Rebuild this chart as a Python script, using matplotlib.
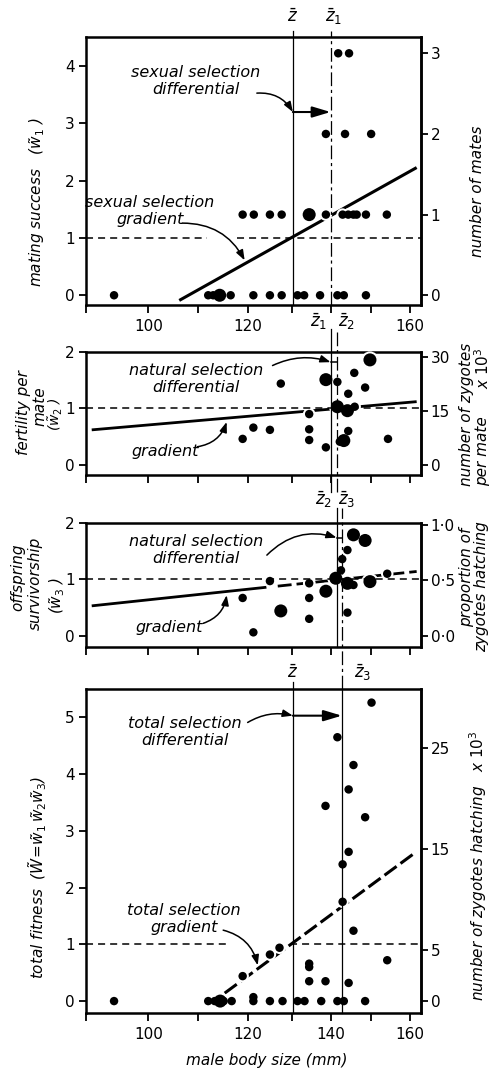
import numpy as np
import matplotlib
matplotlib.use('Agg')
import matplotlib.pyplot as plt

plt.rcParams['font.family'] = ['DejaVu Sans']
plt.rcParams['mathtext.fontset'] = 'dejavusans'

W, H = 492, 1071

# the body size axis is hand drawn: tick values and where they sit along it
size_ticks = [88, 100, 110, 120, 130, 140, 150, 160, 162.8]
size_frac = [0, 0.186, 0.335, 0.484, 0.614, 0.730, 0.850, 0.967, 1.0]

zbar, zbar1, zbar2, zbar3 = 130.3, 140.0, 141.5, 142.8

# panel 1: number of mates per male
p1_size = [93.4, 112.0, 113.0, 114.3, 116.5, 121.2, 125.0, 127.7, 131.5, 133.2, 137.3, 141.7, 143.3, 148.8,
           118.9, 121.3, 125.0, 127.7, 134.5, 138.8, 143.0, 144.4, 145.7, 146.5, 148.8, 154.1,
           138.8, 143.6, 150.1,
           141.9, 144.6]
p1_mates = [0, 0, 0, 0, 0, 0, 0, 0, 0, 0, 0, 0, 0, 0,
            1, 1, 1, 1, 1, 1, 1, 1, 1, 1, 1, 1,
            2, 2, 2,
            3, 3]
p1_n = [1, 1, 1, 2, 1, 1, 1, 1, 1, 1, 1, 1, 1, 1,
        1, 1, 1, 1, 2, 1, 1, 1, 1, 1, 1, 1,
        1, 1, 1,
        1, 1]
mean_mates = 0.71
p1_grad_x = [106.2, 161.7]
p1_grad_y = [-0.09, 2.23]

# panel 2: fertility per mate (relative)
p2_size = [118.9, 121.2, 125.0, 127.5, 134.5, 134.5, 134.5, 138.8, 138.8, 141.7, 141.7,
           142.3, 143.3, 144.4, 144.2, 144.4, 146.0, 145.9, 148.6, 149.8, 154.4]
p2_w = [0.46, 0.66, 0.62, 1.44, 0.90, 0.63, 0.44, 0.31, 1.51, 1.47, 1.03,
        0.41, 0.43, 0.60, 0.96, 1.26, 1.03, 1.63, 1.37, 1.86, 0.46]
p2_n = [1, 1, 1, 1, 1, 1, 1, 1, 2, 1, 2,
        1, 2, 1, 2, 1, 1, 1, 1, 2, 1]
mean_zygotes = 15.7
p2_grad_x = [89.1, 161.7]
p2_grad_y = [0.62, 1.12]

# panel 3: offspring survivorship (relative)
p3_size = [118.9, 121.2, 125.0, 127.5, 134.5, 134.5, 134.5, 138.8, 141.3, 142.6,
           142.9, 144.2, 145.7, 148.6, 144.2, 145.7, 144.2, 149.8, 154.2]
p3_w = [0.67, 0.06, 0.97, 0.44, 0.93, 0.67, 0.30, 0.79, 1.02, 1.16,
        1.36, 1.52, 1.79, 1.69, 0.93, 0.90, 0.41, 0.96, 1.10]
p3_n = [1, 1, 1, 2, 1, 1, 1, 2, 2, 1,
        1, 1, 2, 2, 2, 1, 1, 2, 1]
mean_hatch = 0.51
p3_grad_x = [89.1, 124.2, 126.8, 161.7]
p3_grad_y = [0.53, 0.86, 0.88, 1.14]

# panel 4: total fitness
p4_size = [93.4, 112.0, 113.3, 114.4, 115.1, 116.7, 121.2, 121.2, 125.0, 127.9, 131.5, 133.3, 137.6, 141.7, 143.3, 148.6,
           118.9, 125.0, 127.2, 134.5, 134.5, 134.5, 138.7, 144.5, 154.2,
           143.0, 145.7, 143.0, 144.5, 148.6, 138.7, 144.5, 145.7, 141.7, 150.2]
p4_w = [0, 0, 0, 0, 0, 0, 0.07, 0, 0, 0, 0, 0, 0, 0, 0, 0,
        0.44, 0.82, 0.94, 0.66, 0.60, 0.35, 0.35, 0.32, 0.72,
        1.75, 1.24, 2.41, 2.63, 3.24, 3.44, 3.73, 4.16, 4.65, 5.26]
p4_n = [1, 1, 1, 2, 1, 1, 1, 1, 1, 1, 1, 1, 1, 1, 1, 1,
        1, 1, 1, 1, 1, 1, 1, 1, 1,
        1, 1, 1, 1, 1, 1, 1, 1, 1, 1]
mean_hatched = 5.6
p4_grad_x = [115.3, 161.6]
p4_grad_y = [0.14, 2.63]


def fx(px):
    return px / W


def fy(py):
    return 1 - py / H


def size_fwd(x):
    return np.interp(x, size_ticks, size_frac)


def size_inv(f):
    return np.interp(f, size_frac, size_ticks)


fig = plt.figure(figsize=(W / 100, H / 100), dpi=100)

FS = 11
SPINE = 1.8


def make_axes(top, bottom, ylim, yticks, labels):
    ax = fig.add_axes([fx(86), fy(bottom), fx(421) - fx(86), (bottom - top) / H])
    ax.set_xscale('function', functions=(size_fwd, size_inv))
    ax.set_xlim(88, 162.8)
    ax.set_ylim(*ylim)
    ax.set_xticks([100, 120, 140, 160])
    ax.set_xticks([88, 110, 130, 150], minor=True)
    ax.set_xticklabels(labels)
    ax.set_yticks(yticks)
    ax.tick_params(axis='x', which='both', direction='out', length=6, width=1.3, labelsize=FS, pad=4)
    ax.tick_params(axis='y', which='both', direction='out', length=5, width=1.3, labelsize=FS, pad=3)
    for s in ax.spines.values():
        s.set_linewidth(SPINE)
    return ax


def add_right(ax, factor, ticks, labels=None):
    sec = ax.secondary_yaxis('right', functions=(lambda w: w * factor, lambda v: v / factor))
    sec.set_yticks(ticks)
    if labels is not None:
        sec.set_yticklabels(labels)
    sec.tick_params(direction='out', length=5, width=1.3, labelsize=FS, pad=2)
    sec.spines['right'].set_linewidth(SPINE)
    return sec


def dots(ax, x, y, n):
    n = np.asarray(n)
    ax.scatter(x, y, s=np.where(n > 1, 150, 81), c='white', linewidths=0, zorder=3, clip_on=False)
    ax.scatter(x, y, s=np.where(n > 1, 88, 37), c='black', linewidths=0, zorder=6, clip_on=False)


def one_line(ax, segments):
    for a, b in segments:
        ax.plot([a, b], [1, 1], color='black', lw=1.1, dashes=(4.6, 3.3), zorder=4)


def vline(ax, x, y0, y1, style):
    kw = dict(color='black', lw=0.9, transform=ax.get_xaxis_transform(), clip_on=False, zorder=4)
    if style == 'dd':
        kw['dashes'] = (11, 3, 2.5, 3)
    ax.plot([x, x], [y0, y1], **kw)


def curved(rad):
    return dict(arrowstyle='-|>,head_length=0.6,head_width=0.22', connectionstyle='arc3,rad=%s' % rad,
                lw=1.1, color='black', shrinkA=0, shrinkB=0)


straight = dict(arrowstyle='-|>,head_length=1.1,head_width=0.33', lw=1.5, color='black', shrinkA=0, shrinkB=0)
tkw = dict(ha='center', va='center', style='italic', fontsize=11.5, linespacing=1.15)
zkw = dict(fontsize=12, va='center')

# ---------- panel 1 ----------
ax1 = make_axes(37, 305, (-0.17, 4.51), [0, 1, 2, 3, 4], ['100', '120', '', '160'])
add_right(ax1, mean_mates, [0, 1, 2, 3])
dots(ax1, p1_size, np.array(p1_mates) / mean_mates, p1_n)
ax1.plot(p1_grad_x, p1_grad_y, color='black', lw=2.2, zorder=2, solid_capstyle='butt')
one_line(ax1, [(88, 111.8), (117.7, 162.8)])
vline(ax1, zbar, 0, 1.022, 'solid')
vline(ax1, zbar1, 0, 1.022, 'dd')
ax1.text(109.5, 3.74, 'sexual selection\ndifferential', **tkw)
ax1.annotate('', xy=(zbar, 3.2), xytext=(122.0, 3.53), arrowprops=curved(-0.3))
ax1.annotate('', xy=(zbar1, 3.2), xytext=(zbar, 3.2), arrowprops=straight)
ax1.text(100.3, 1.47, 'sexual selection\ngradient', **tkw)
ax1.annotate('', xy=(119.3, 0.61), xytext=(106.8, 1.26), arrowprops=curved(-0.3))
fig.text(fx(293), fy(17), r'$\bar{z}$', ha='center', **zkw)
fig.text(fx(334), fy(17), r'$\bar{z}_1$', ha='center', **zkw)
fig.text(fx(37), fy(202), r'mating success   ($\tilde{w}_1$ )', rotation=90, ha='center', va='center',
         style='italic', fontsize=FS)
fig.text(fx(478), fy(191), 'number of mates', rotation=90, ha='center', va='center', style='italic', fontsize=FS)

# ---------- panel 2 ----------
ax2 = make_axes(352, 475, (-0.18, 2.0), [0, 1, 2], ['', '', '', ''])
add_right(ax2, mean_zygotes, [0, 15, 30])
dots(ax2, p2_size, p2_w, p2_n)
ax2.plot(p2_grad_x, p2_grad_y, color='black', lw=2.0, zorder=2, solid_capstyle='butt')
one_line(ax2, [(88, 162.8)])
vline(ax2, zbar1, -0.14, 1.19, 'solid')
vline(ax2, zbar2, -0.14, 1.19, 'dd')
ax2.text(109.6, 1.52, 'natural selection\ndifferential', **tkw)
ax2.annotate('', xy=(zbar1, 1.82), xytext=(125.6, 1.76), arrowprops=curved(-0.2))
ax2.plot([zbar1, zbar2], [1.82, 1.82], color='black', lw=1.1, zorder=4)
ax2.text(103.4, 0.23, 'gradient', **tkw)
ax2.annotate('', xy=(115.7, 0.76), xytext=(109.8, 0.32), arrowprops=curved(0.3))
fig.text(fx(327), fy(322), r'$\bar{z}_1$', ha='right', **zkw)
fig.text(fx(338), fy(322), r'$\bar{z}_2$', ha='left', **zkw)
fig.text(fx(24), fy(413), 'fertility per', rotation=90, ha='center', va='center', style='italic', fontsize=FS)
fig.text(fx(40), fy(406), 'mate', rotation=90, ha='center', va='center', style='italic', fontsize=FS)
fig.text(fx(56), fy(414), r'($\tilde{w}_2$ )', rotation=90, ha='center', va='center', style='italic', fontsize=10)
fig.text(fx(467), fy(414), 'number of zygotes', rotation=90, ha='center', va='center', style='italic', fontsize=FS)
fig.text(fx(483), fy(486), 'per mate', rotation=90, ha='center', va='bottom', style='italic', fontsize=FS)
fig.text(fx(483), fy(347), r'x $10^3$', rotation=90, ha='center', va='top', style='italic', fontsize=FS)

# ---------- panel 3 ----------
ax3 = make_axes(523, 647, (-0.2, 2.0), [0, 1, 2], ['', '', '', ''])
add_right(ax3, mean_hatch, [0, 0.5, 1.0], ['0·0', '0·5', '1·0'])
dots(ax3, p3_size, p3_w, p3_n)
ax3.plot(p3_grad_x[:2], p3_grad_y[:2], color='black', lw=2.0, zorder=2, solid_capstyle='butt')
ax3.plot(p3_grad_x[2:], p3_grad_y[2:], color='black', lw=2.0, zorder=2, dashes=(5, 1.8))
one_line(ax3, [(88, 162.8)])
vline(ax3, zbar2, 0, 1.12, 'solid')
vline(ax3, zbar3, -0.34, 1.12, 'dd')
ax3.text(109.6, 1.52, 'natural selection\ndifferential', **tkw)
ax3.annotate('', xy=(zbar2, 1.74), xytext=(124.3, 1.43), arrowprops=curved(-0.3))
ax3.plot([zbar2, zbar3], [1.74, 1.74], color='black', lw=1.1, zorder=4)
ax3.text(104.2, 0.15, 'gradient', **tkw)
ax3.annotate('', xy=(115.7, 0.72), xytext=(111.0, 0.22), arrowprops=curved(0.3))
fig.text(fx(332), fy(500), r'$\bar{z}_2$', ha='right', **zkw)
fig.text(fx(338), fy(500), r'$\bar{z}_3$', ha='left', **zkw)
fig.text(fx(18), fy(577), 'offspring', rotation=90, ha='center', va='center', style='italic', fontsize=FS)
fig.text(fx(35), fy(583), 'survivorship', rotation=90, ha='center', va='center', style='italic', fontsize=FS)
fig.text(fx(57), fy(595), r'($\tilde{w}_3$ )', rotation=90, ha='center', va='center', style='italic', fontsize=FS)
fig.text(fx(467), fy(577), 'proportion of', rotation=90, ha='center', va='center', style='italic', fontsize=FS)
fig.text(fx(482), fy(587), 'zygotes hatching', rotation=90, ha='center', va='center', style='italic', fontsize=FS)

# ---------- panel 4 ----------
ax4 = make_axes(689, 1013, (-0.21, 5.5), [0, 1, 2, 3, 4, 5], ['100', '120', '140', '160'])
add_right(ax4, mean_hatched, [0, 5, 15, 25])
dots(ax4, p4_size, p4_w, p4_n)
ax4.plot(p4_grad_x, p4_grad_y, color='black', lw=2.2, zorder=2, dashes=(4.9, 1.6))
one_line(ax4, [(88, 115.7), (129.5, 162.8)])
vline(ax4, zbar, 0, 1.022, 'solid')
vline(ax4, zbar3, 0, 1.0, 'solid')
ax4.text(107.4, 4.74, 'total selection\ndifferential', **tkw)
ax4.annotate('', xy=(zbar, 5.03), xytext=(119.9, 4.91), arrowprops=curved(-0.2))
ax4.annotate('', xy=(zbar3, 5.03), xytext=(zbar, 5.03), arrowprops=straight)
ax4.text(107.2, 1.44, 'total selection\ngradient', **tkw)
ax4.annotate('', xy=(122.2, 0.63), xytext=(115.0, 1.25), arrowprops=curved(-0.3))
fig.text(fx(293), fy(673), r'$\bar{z}$', ha='center', **zkw)
fig.text(fx(354), fy(673), r'$\bar{z}_3$', ha='left', **zkw)
fig.text(fx(38), fy(877), r'total fitness  ($\tilde{W}\!=\!\tilde{w}_1\,\tilde{w}_2\tilde{w}_3$)', rotation=90,
         ha='center', va='center', style='italic', fontsize=FS)
fig.text(fx(478), fy(866), r'number of zygotes hatching   x $10^3$', rotation=90, ha='center', va='center',
         style='italic', fontsize=FS)
fig.text(fx(267), fy(1060), 'male body size (mm)', ha='center', va='center', style='italic', fontsize=FS)

fig.savefig('out.png', dpi=100)
